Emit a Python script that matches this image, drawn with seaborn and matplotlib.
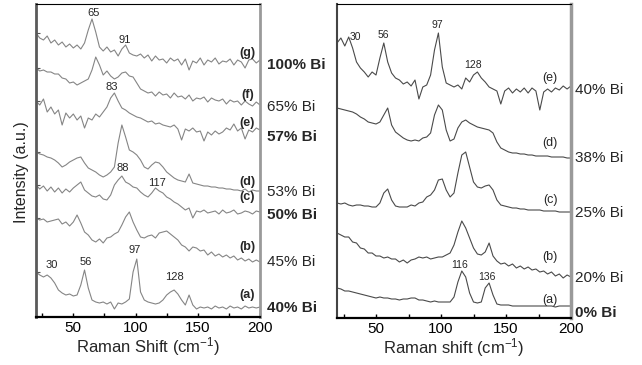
import numpy as np
import pandas as pd
import seaborn as sns
import matplotlib.pyplot as plt
from matplotlib.ticker import MultipleLocator

# Raman shift sampling (cm-1), shared by every spectrum
shift = [20, 23, 26, 29, 32, 35, 38, 41, 44, 47, 50, 53, 56, 59, 62, 65, 68, 71, 74, 77,
         80, 83, 86, 89, 92, 95, 98, 101, 104, 107, 110, 113, 116, 119, 122, 125, 128, 131,
         134, 137, 140, 143, 146, 149, 152, 155, 158, 161, 164, 167, 170, 173, 176, 179,
         182, 185, 188, 191, 194, 197, 200]

# ---- left panel (intensity, arbitrary units) ----
left_tags = ['(g)', '(f)', '(e)', '(d)', '(c)', '(b)', '(a)']
left_comp = ['100% Bi', '65% Bi', '57% Bi', '53% Bi', '50% Bi', '45% Bi', '40% Bi']
left_g = [284, 279, 277, 281, 274, 277, 272, 275, 270, 273, 269, 272, 268, 274, 287, 298, 285, 270, 266, 270,
          265, 267, 261, 268, 272, 264, 262,
          261, 263, 259, 262, 256, 261, 257, 258, 254, 259, 256, 258, 252, 258, 247, 256, 254, 259,
          252, 257, 255, 259, 253, 256, 255, 258, 252, 257, 255, 249, 257, 258, 254, 257]
left_f = [249, 246, 247, 245, 245, 243, 243, 239, 238, 234, 235, 232, 234, 236, 238, 247, 260, 252, 242, 246,
          241, 238, 240, 244, 245, 241, 240,
          234, 228, 226, 224, 225, 221, 225, 222, 223, 219, 224, 220, 221, 218, 222, 216, 219, 218,
          220, 215, 219, 217, 216, 218, 213, 217, 215, 216, 212, 216, 213, 211, 215, 212]
left_e = [216, 212, 218, 205, 210, 203, 207, 192, 204, 199, 203, 197, 201, 189, 199, 197, 203, 200, 205, 210,
          219, 224, 216, 209, 207, 204, 202, 200, 199, 197, 195, 196, 193, 194, 192, 191, 190, 192,
          188, 177, 188, 186, 189, 185, 186, 176, 185, 182, 186, 183, 185, 189, 187, 193,
          186, 189, 178, 187, 185, 189, 187]
left_d = [165, 163, 162, 160, 159, 157, 154, 150, 152, 155, 157, 159, 160, 154, 149, 147, 145, 142, 140, 142,
          145, 150, 174, 192, 180, 167, 165, 162, 157, 150, 148, 152, 155, 154, 150, 145, 142, 139,
          137, 136, 135, 143, 134, 133, 132, 131, 131, 130, 130, 129, 129, 128, 128, 127,
          127, 126, 128, 125, 127, 126, 126]
left_c = [132, 128, 131, 126, 130, 125, 129, 124, 128, 125, 129, 132, 135, 127, 124, 121, 120, 122, 118, 117,
          122, 132, 137, 141, 135, 133, 130,
          129, 125, 122, 120, 124, 129, 126, 124, 120, 118, 115, 113, 110, 107, 109, 99, 106, 105,
          107, 104, 105, 106, 103, 107, 104, 105, 107, 103, 104, 106, 105, 103, 106, 105]
left_b = [99, 97, 98, 95, 96, 97, 98, 93, 95, 91, 95, 102, 94, 85, 82, 77, 75, 78, 74, 79,
          80, 83, 85, 92, 100, 105, 95,
          87, 80, 79, 81, 82, 79, 84, 85, 86, 83, 80, 77, 72, 70, 66, 70, 69, 66,
          67, 62, 65, 61, 63, 60, 62, 59, 61, 57, 59, 56, 58, 55, 57, 55]
left_a = [45, 42, 40, 42, 39, 34, 27, 24, 22, 23, 21, 22, 32, 47, 29, 17, 15, 14, 15, 13,
          15, 8, 14, 13, 15, 18, 45, 58, 25, 17, 15, 14, 13, 14, 17, 22, 25, 27,
          23, 17, 12, 22, 12, 8, 10, 9, 10, 8, 11, 9, 10, 8, 11, 9,
          10, 8, 11, 9, 10, 9, 10]
left_series = [left_g, left_f, left_e, left_d, left_c, left_b, left_a]
left_peaks = ['65', '91', '83', '88', '117', '30', '56', '97', '128']

# ---- right panel ----
right_tags = ['(e)', '(d)', '(c)', '(b)', '(a)']
right_comp = ['40% Bi', '38% Bi', '25% Bi', '20% Bi', '0% Bi']
right_e = [275, 280, 272, 281, 270, 256, 250, 246, 241, 246, 243, 260, 275, 256, 245, 240, 238, 234, 236, 232,
           238, 219, 231, 233, 243, 268, 285, 251, 235, 233, 231, 233, 229, 240, 236, 243, 246, 240,
           236, 231, 229, 227, 214, 227, 230, 225, 229, 226, 230, 225, 230, 227, 208, 226,
           229, 226, 230, 228, 232, 229, 232]
right_d = [210, 209, 208, 207, 206, 204, 201, 199, 196, 195, 194, 196, 203, 210, 193, 186, 183, 180, 178, 177,
           178, 177, 180, 181, 185, 203, 213, 208, 188, 177, 179, 190, 196, 198, 195, 193, 191, 190,
           189, 188, 185, 176, 170, 168, 166, 165, 165, 164, 164, 163, 163, 162, 162, 162,
           162, 161, 161, 161, 161, 160, 160]
right_c = [115, 114, 115, 113, 112, 113, 113, 112, 112, 111, 111, 115, 125, 129, 118, 112, 111, 111, 111, 113,
           112, 115, 116, 121, 123, 128, 138, 139, 128, 121, 125, 145, 163, 166, 151, 136, 131, 130,
           132, 133, 128, 118, 113, 112, 111, 110, 110, 109, 109, 108, 108, 108, 108, 107,
           107, 107, 107, 106, 106, 106, 106]
right_b = [85, 83, 81, 81, 76, 75, 70, 69, 65, 65, 62, 62, 60, 61, 59, 59, 56, 58, 55, 58,
           59, 61, 60, 61, 59, 60, 61,
           61, 63, 65, 73, 86, 97, 90, 80, 70, 64, 63, 66, 75, 62, 57, 54, 55, 52,
           54, 50, 52, 49, 51, 48, 49, 46, 47, 44, 46, 42, 44, 40, 43, 41]
right_a = [30, 29, 27, 27, 26, 25, 24, 23, 22, 21, 20, 21, 20, 20, 19, 19, 18, 19, 19, 20,
           20, 18, 18, 17, 16, 17, 16, 16, 16, 16, 21, 36, 47, 41, 25, 16, 15, 16,
           30, 35, 23, 14, 13, 13, 13, 12, 12, 12, 12, 12, 12, 12, 12, 12,
           12, 12, 11, 12, 12, 12, 12]
right_series = [right_e, right_d, right_c, right_b, right_a]
right_peaks = ['30', '56', '97', '128', '116', '136']

sns.set_style("white")
plt.rcParams['font.family'] = ['Liberation Sans', 'DejaVu Sans']
plt.rcParams['mathtext.fontset'] = 'custom'
plt.rcParams['mathtext.rm'] = 'Liberation Sans'
plt.rcParams['mathtext.it'] = 'Liberation Sans'

fig = plt.figure(figsize=(6.42, 3.65), dpi=100, facecolor='white')
ax1 = fig.add_axes([36 / 642, 1 - 317 / 365, 224 / 642, 313 / 365])
ax2 = fig.add_axes([337 / 642, 1 - 318 / 365, 234 / 642, 314 / 365])

for s in left_series:
    sns.lineplot(x=shift, y=s, ax=ax1, color='#858585', linewidth=0.8)
for s in right_series:
    sns.lineplot(x=shift, y=s, ax=ax2, color='#4a4a4a', linewidth=0.8)

# text placement
left_tag_y = [264, 222, 194, 135, 120, 70, 22]
left_comp_y = [252, 210, 180, 125, 102, 55, 9]
left_comp_bold = [True, False, True, False, True, False, True]
left_peak_xy = [(66, 304), (91.5, 277), (81, 230), (90, 149), (117, 134),
                (33, 52), (60, 55), (99.5, 67), (131, 40)]
right_tag_y = [240, 175, 118, 61, 18]
right_comp_y = [228, 160, 105, 40, 5]
right_comp_bold = [False, False, False, False, True]
right_peak_xy = [(34, 281), (55.5, 283), (97, 293), (124.5, 253), (114.5, 53), (135.5, 41)]

for tag, y in zip(left_tags, left_tag_y):
    ax1.text(190, y, tag, fontsize=9, fontweight='bold', ha='center', va='center')
for lab, y, b in zip(left_comp, left_comp_y, left_comp_bold):
    ax1.text(1.03, y, lab, transform=ax1.get_yaxis_transform(), fontsize=11,
             fontweight='bold' if b else 'normal', ha='left', va='center', clip_on=False)
for lab, (x, y) in zip(left_peaks, left_peak_xy):
    ax1.text(x, y, lab, fontsize=8, ha='center', va='center')

for tag, y in zip(right_tags, right_tag_y):
    ax2.text(184, y, tag, fontsize=9, ha='center', va='center')
for lab, y, b in zip(right_comp, right_comp_y, right_comp_bold):
    ax2.text(1.017, y, lab, transform=ax2.get_yaxis_transform(), fontsize=11,
             fontweight='bold' if b else 'normal', ha='left', va='center', clip_on=False)
for lab, (x, y) in zip(right_peaks, right_peak_xy):
    ax2.text(x, y, lab, fontsize=7.5, ha='center', va='center')

for ax, top in [(ax1, 313), (ax2, 314)]:
    ax.set_xlim(20, 200)
    ax.set_ylim(0, top)
    ax.xaxis.set_major_locator(MultipleLocator(50))
    ax.xaxis.set_minor_locator(MultipleLocator(25))
    ax.tick_params(axis='x', which='both', direction='in', length=3, width=1,
                   bottom=True, labelsize=11, pad=3, colors='black')
    ax.spines['top'].set_linewidth(0.8)
    ax.spines['top'].set_color('black')
    ax.spines['bottom'].set_linewidth(1.6)
    ax.spines['bottom'].set_color('black')
    ax.spines['right'].set_color('#9a9a9a')

ax1.set_yticks([s[0] for s in left_series])
ax1.tick_params(axis='y', direction='in', length=3, left=True, labelleft=False, colors='#555555')
ax2.set_yticks([])
ax1.spines['left'].set_color('#5a5a5a')
ax1.spines['left'].set_linewidth(2)
ax1.spines['right'].set_linewidth(2)
ax2.spines['left'].set_color('#444444')
ax2.spines['left'].set_linewidth(1.5)
ax2.spines['right'].set_linewidth(2.5)

ax1.set_xlabel(r'Raman Shift (cm$^{-1}$)', fontsize=12, labelpad=0)
ax2.set_xlabel(r'Raman shift (cm$^{-1}$)', fontsize=12, labelpad=0)
ax1.set_ylabel('Intensity (a.u.)', fontsize=11.5)
ax1.yaxis.set_label_coords(-0.03, 0.463)

fig.savefig('out.png', dpi=100)
